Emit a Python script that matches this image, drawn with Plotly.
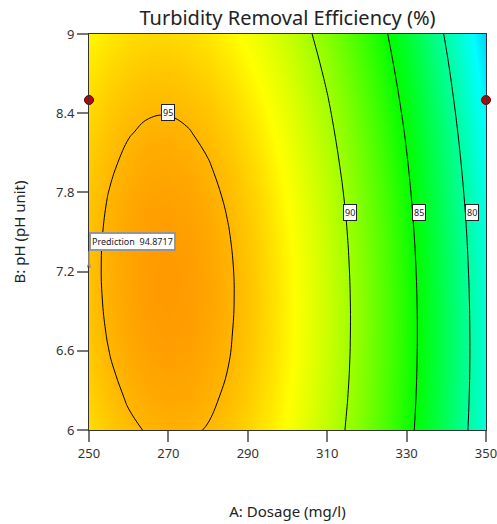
import plotly.graph_objects as go

# A: Dosage (mg/l) grid and B: pH grid
dosage = [250, 255, 260, 265, 270, 275, 280, 285, 290, 295, 300,
          305, 310, 315, 320, 325, 330, 335, 340, 345, 350]
ph = [6.0, 6.25, 6.5, 6.75, 7.0, 7.25, 7.5, 7.75, 8.0, 8.25, 8.5, 8.75, 9.0]

# Turbidity removal efficiency (%), rows = pH
efficiency = [
    [93.96, 94.46, 94.84, 95.07, 95.17, 95.13, 94.95, 94.64, 94.19, 93.60, 92.87, 92.01, 91.01, 89.88, 88.61, 87.20, 85.65, 83.97, 82.15, 80.19, 78.10],
    [94.23, 94.73, 95.09, 95.32, 95.41, 95.36, 95.18, 94.86, 94.40, 93.80, 93.07, 92.20, 91.20, 90.05, 88.77, 87.36, 85.80, 84.11, 82.28, 80.32, 78.22],
    [94.44, 94.94, 95.29, 95.51, 95.59, 95.54, 95.34, 95.02, 94.55, 93.95, 93.21, 92.33, 91.32, 90.17, 88.88, 87.45, 85.89, 84.19, 82.36, 80.39, 78.28],
    [94.59, 95.08, 95.43, 95.64, 95.71, 95.65, 95.45, 95.11, 94.64, 94.03, 93.28, 92.40, 91.38, 90.22, 88.92, 87.49, 85.92, 84.22, 82.37, 80.39, 78.28],
    [94.68, 95.16, 95.50, 95.71, 95.77, 95.70, 95.50, 95.15, 94.67, 94.05, 93.30, 92.41, 91.38, 90.21, 88.91, 87.47, 85.89, 84.18, 82.33, 80.34, 78.21],
    [94.71, 95.18, 95.52, 95.71, 95.77, 95.69, 95.48, 95.13, 94.64, 94.01, 93.25, 92.35, 91.31, 90.14, 88.83, 87.38, 85.80, 84.08, 82.22, 80.22, 78.09],
    [94.68, 95.14, 95.47, 95.66, 95.71, 95.62, 95.40, 95.04, 94.55, 93.91, 93.14, 92.23, 91.19, 90.01, 88.69, 87.24, 85.64, 83.92, 82.05, 80.05, 77.91],
    [94.59, 95.04, 95.36, 95.54, 95.59, 95.49, 95.26, 94.90, 94.39, 93.75, 92.97, 92.06, 91.01, 89.82, 88.49, 87.03, 85.43, 83.69, 81.82, 79.81, 77.66],
    [94.43, 94.88, 95.19, 95.37, 95.40, 95.30, 95.06, 94.69, 94.18, 93.53, 92.74, 91.82, 90.76, 89.56, 88.23, 86.76, 85.15, 83.41, 81.53, 79.51, 77.36],
    [94.22, 94.66, 94.96, 95.13, 95.16, 95.05, 94.80, 94.42, 93.90, 93.24, 92.45, 91.52, 90.45, 89.25, 87.91, 86.43, 84.82, 83.06, 81.18, 79.15, 76.99],
    [93.94, 94.38, 94.67, 94.83, 94.85, 94.73, 94.48, 94.09, 93.56, 92.90, 92.10, 91.16, 90.09, 88.87, 87.53, 86.04, 84.42, 82.66, 80.76, 78.73, 76.56],
    [93.61, 94.03, 94.32, 94.47, 94.48, 94.36, 94.10, 93.70, 93.17, 92.49, 91.69, 90.74, 89.66, 88.44, 87.08, 85.59, 83.96, 82.19, 80.29, 78.25, 76.07],
    [93.21, 93.62, 93.90, 94.05, 94.05, 93.92, 93.65, 93.25, 92.71, 92.03, 91.21, 90.26, 89.17, 87.94, 86.58, 85.08, 83.44, 81.66, 79.75, 77.70, 75.52],
]

# contour labels: level and where the label box sits
contour_levels = [95, 90, 85, 80]
label_x = [270.0, 315.7, 333.2, 346.5]
label_y = [8.405, 7.644, 7.644, 7.644]

# design points and prediction flag
design_x = [250, 350]
design_y = [8.5, 8.5]
pred_x = [250]
pred_y = [7.24]
pred_value = 94.8717

x_ticks = [250, 270, 290, 310, 330, 350]
y_ticks = [6, 6.6, 7.2, 7.8, 8.4, 9]

FONT = "Noto Sans"
zlo, zhi = 69.0, 100.0
def pos(v):
    return (v - zlo) / (zhi - zlo)
colorscale = [
    [0.0, "rgb(0,0,255)"],
    [pos(77), "rgb(0,255,255)"],
    [pos(85), "rgb(0,255,0)"],
    [pos(93), "rgb(255,255,0)"],
    [1.0, "rgb(255,0,0)"],
]

fig = go.Figure()
fig.add_trace(go.Contour(
    x=dosage, y=ph, z=efficiency,
    colorscale=colorscale, zmin=zlo, zmax=zhi, showscale=False,
    contours=dict(coloring="heatmap", start=min(contour_levels),
                  end=max(contour_levels), size=5, showlabels=False),
    line=dict(color="black", width=1, smoothing=1.3),
    hoverinfo="skip",
))
fig.add_trace(go.Scatter(
    x=design_x, y=design_y, mode="markers", cliponaxis=False,
    marker=dict(size=9, color="rgb(200,0,0)", line=dict(color="rgb(90,0,0)", width=1)),
    showlegend=False, hoverinfo="skip",
))
fig.add_trace(go.Scatter(
    x=pred_x, y=pred_y, mode="markers", cliponaxis=False,
    marker=dict(size=4, color="rgb(150,150,150)"),
    showlegend=False, hoverinfo="skip",
))

annotations = []
for lv, lx, ly in zip(contour_levels, label_x, label_y):
    annotations.append(dict(
        x=lx, y=ly, xref="x", yref="y", text=str(lv), showarrow=False,
        font=dict(family=FONT, size=9, color="#222"),
        bgcolor="white", bordercolor="#222", borderwidth=1, borderpad=1,
    ))
annotations.append(dict(
    x=pred_x[0], y=pred_y[0], xref="x", yref="y",
    text="Prediction  %.4f" % pred_value, showarrow=True,
    arrowhead=0, arrowwidth=1.5, arrowcolor="rgb(150,150,150)",
    ax=0, ay=-15, xanchor="left", yanchor="bottom",
    font=dict(family=FONT, size=9, color="#222"),
    bgcolor="white", bordercolor="rgb(150,150,150)", borderwidth=2, borderpad=1,
))

axis_common = dict(
    showline=True, linecolor="#333", linewidth=1, mirror=True,
    ticks="outside", ticklen=11, tickcolor="#777", tickwidth=1.5,
    showgrid=False, zeroline=False, ticklabeloverflow="allow", automargin=False,
    tickfont=dict(family=FONT, size=13, color="#333"),
)
fig.update_layout(
    width=497, height=524,
    margin=dict(l=89, r=11, t=34, b=94),
    paper_bgcolor="white", plot_bgcolor="white",
    title=dict(text="Turbidity Removal Efficiency (%)", x=0.5785, xanchor="center",
               y=0.965, yanchor="middle",
               font=dict(family=FONT, size=20, color="#222")),
    xaxis=dict(range=[250, 350], tickvals=x_ticks,
               title=dict(text="A: Dosage (mg/l)", standoff=45,
                          font=dict(family=FONT, size=15, color="#222")),
               **axis_common),
    yaxis=dict(range=[6, 9], tickvals=y_ticks, ticktext=[str(t) for t in y_ticks],
               title=dict(text="B: pH (pH unit)", standoff=26,
                          font=dict(family=FONT, size=15, color="#222")),
               **axis_common),
    annotations=annotations,
    showlegend=False,
)
fig.write_html("out.html")
